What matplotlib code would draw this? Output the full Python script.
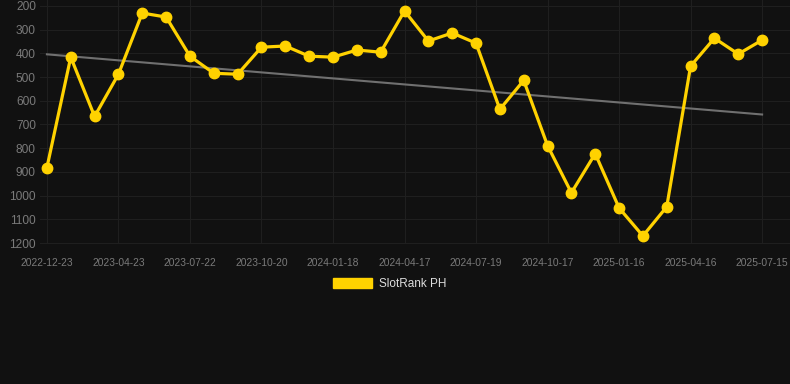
import numpy as np
import matplotlib
matplotlib.use("Agg")
from matplotlib import pyplot as plt
from matplotlib.patches import Patch

plt.rcParams['font.family'] = ['Liberation Sans', 'DejaVu Sans']

# tick labels (every 3rd point)
tick_labels = ['2022-12-23', '2023-04-23', '2023-07-22', '2023-10-20', '2024-01-18',
               '2024-04-17', '2024-07-19', '2024-10-17', '2025-01-16', '2025-04-16',
               '2025-07-15']

# rank values
ranks = [882, 416, 666, 488, 230, 247, 412, 484, 488, 374, 369, 412, 416, 386, 395,
         221, 348, 314, 357, 636, 514, 789, 988, 823, 1052, 1170, 1047, 454, 336, 403, 344]

bg = '#111111'
gold = '#FFD200'

x = np.arange(len(ranks))

fig = plt.figure(figsize=(7.9, 3.84), dpi=100, facecolor=bg)
ax = fig.add_axes([40 / 790, 140 / 384, 750 / 790, 244 / 384])
ax.set_facecolor(bg)

# trend line (linear fit of the ranks)
k, b = np.polyfit(x, ranks, 1)
ax.plot(x, k * x + b, color='#707070', lw=1.5, zorder=2)

ax.plot(x, ranks, color=gold, lw=2.3, marker='o', markersize=7.5, zorder=3)

ax.set_xlim(-0.29, 31.17)
ax.set_ylim(1204, 175)
ax.set_yticks(range(200, 1300, 100))
ax.set_xticks(x[::3])
ax.set_xticklabels(tick_labels)

ax.grid(True, color='#1f1f1f', lw=0.8)
ax.set_axisbelow(True)
for s in ax.spines.values():
    s.set_visible(False)
ax.tick_params(axis='both', length=0, colors='#7a7a7a')
ax.tick_params(axis='x', labelsize=7.4, pad=10)
ax.tick_params(axis='y', labelsize=8.6, pad=3)

fig.legend(handles=[Patch(facecolor=gold, edgecolor=gold, label='SlotRank PH')],
           loc='center', bbox_to_anchor=(390 / 790, 100 / 384), frameon=False,
           fontsize=8.5, labelcolor='#dddddd', handlelength=3.3, handleheight=1.0,
           handletextpad=0.6)

fig.savefig('out.png', dpi=100, facecolor=bg)
